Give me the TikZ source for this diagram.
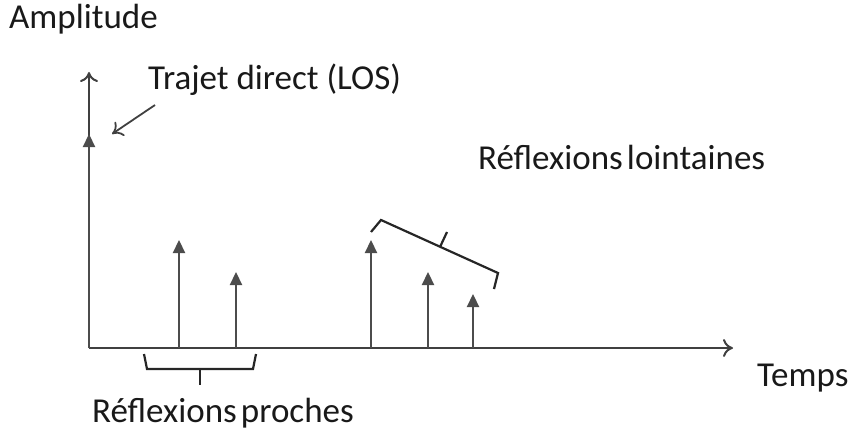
\documentclass[tikz,border=0pt]{standalone}
\usepackage{fontspec}
\setmainfont{Carlito}
\usetikzlibrary{arrows.meta}
\begin{document}
\begin{tikzpicture}[x=1pt,y=-1pt,
  lbl/.style={inner sep=0pt,font=\fontsize{35}{41}\selectfont,text=black!90},
  axis/.style={draw=black!75,line width=2pt,-{To[length=10pt,width=18pt]}},
  ray/.style={draw=black!70,line width=2.2pt,-{Triangle[length=13pt,width=12pt]}},
  brace/.style={draw=black!85,line width=2.2pt}]
\useasboundingbox (0,0) rectangle (859,433);
\coordinate (O) at (89,348);
\coordinate (Ytip) at (89,72);
\coordinate (Xtip) at (733,348);
\draw[axis] (O) -- (Ytip);
\draw[axis] (O) -- (Xtip);
% rays
\coordinate (r0b) at (89,348);  \coordinate (r0t) at (89,134);
\coordinate (r1b) at (179,348); \coordinate (r1t) at (179,240);
\coordinate (r2b) at (236,348); \coordinate (r2t) at (236,272);
\coordinate (r3b) at (371,348); \coordinate (r3t) at (371,240);
\coordinate (r4b) at (428,348); \coordinate (r4t) at (428,272);
\coordinate (r5b) at (473,348); \coordinate (r5t) at (473,294);
\draw[ray] (r0b) -- (r0t);
\draw[ray] (r1b) -- (r1t);
\draw[ray] (r2b) -- (r2t);
\draw[ray] (r3b) -- (r3t);
\draw[ray] (r4b) -- (r4t);
\draw[ray] (r5b) -- (r5t);
% labels
\node[lbl,anchor=west] (amp) at (9,19) {Amplitude};
\node[lbl,anchor=west] (los) at (148,80) {Trajet direct (LOS)};
\node[lbl,anchor=west] (far) at (478,157) {Réflexions\hspace{0.12em}lointaines};
\node[lbl,anchor=west] (temps) at (757,378) {Temps};
\node[lbl,anchor=west] (near) at (92,413) {Réflexions\hspace{0.12em}proches};
% LOS pointer
\coordinate (losp) at (155,105);
\coordinate (losq) at (112,134);
\draw[draw=black!75,line width=1.8pt,-{To[length=10pt,width=17pt]}] (losp) -- (losq);
% far brace
\coordinate (fb1) at (371,232);
\coordinate (fb2) at (381,220);
\coordinate (fb3) at (498,273);
\coordinate (fb4) at (494,289);
\coordinate (fm1) at (440,247);
\coordinate (fm2) at (447,232);
\draw[brace] (fb1) -- (fb2) -- (fb3) -- (fb4);
\draw[brace] (fm1) -- (fm2);
% near brace
\coordinate (nb1) at (144,354);
\coordinate (nb2) at (147,369);
\coordinate (nb3) at (253,369);
\coordinate (nb4) at (256,354);
\coordinate (nm1) at (200,369);
\coordinate (nm2) at (200,385);
\draw[brace] (nb1) -- (nb2) -- (nb3) -- (nb4);
\draw[brace] (nm1) -- (nm2);
\end{tikzpicture}
\end{document}
